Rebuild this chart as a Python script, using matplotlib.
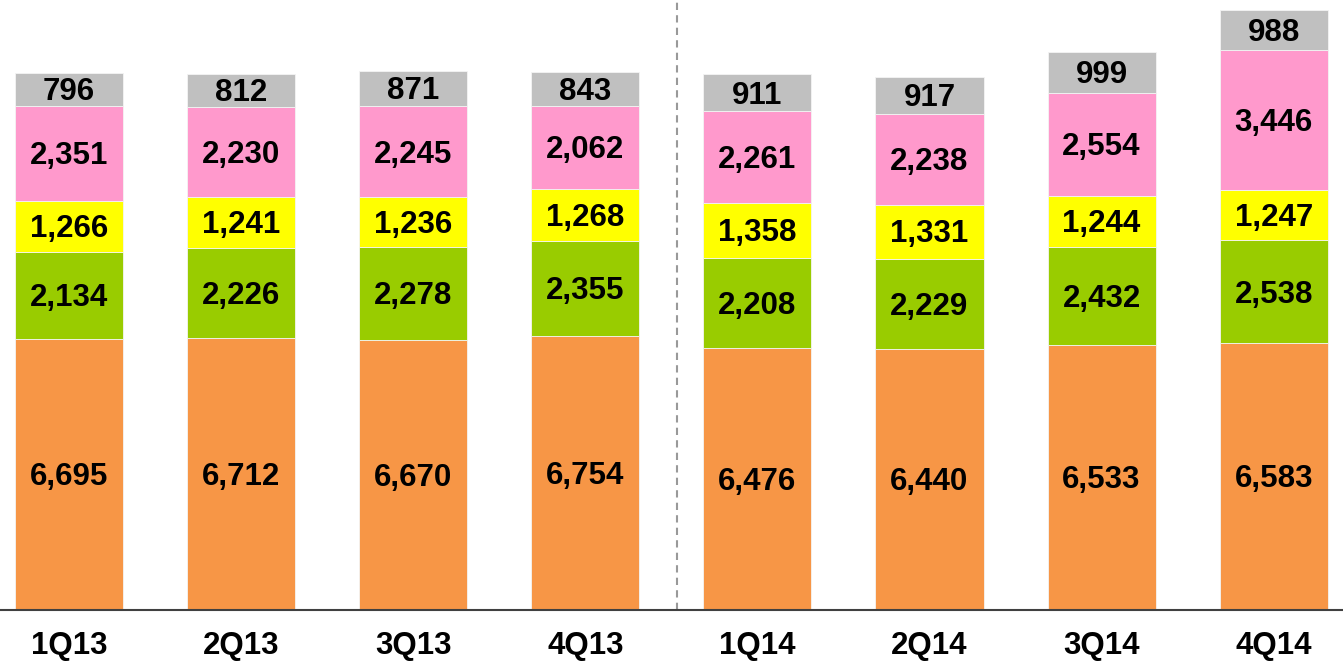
import matplotlib.pyplot as plt
import matplotlib.transforms as mtransforms
import numpy as np

# datos del grafico (trimestres y cinco series apiladas)
trimestres = ["1Q13", "2Q13", "3Q13", "4Q13", "1Q14", "2Q14", "3Q14", "4Q14"]
naranja = [6695, 6712, 6670, 6754, 6476, 6440, 6533, 6583]
verde = [2134, 2226, 2278, 2355, 2208, 2229, 2432, 2538]
amarillo = [1266, 1241, 1236, 1268, 1358, 1331, 1244, 1247]
rosa = [2351, 2230, 2245, 2062, 2261, 2238, 2554, 3446]
gris = [796, 812, 871, 843, 911, 917, 999, 988]

series = [naranja, verde, amarillo, rosa, gris]
colores = ["#F79646", "#99CC00", "#FFFF00", "#FF99CC", "#C0C0C0"]

plt.rcParams['font.family'] = ['Liberation Sans', 'DejaVu Sans']

fig = plt.figure(figsize=(13.43, 6.62), dpi=100)
ax = fig.add_axes([0, 1 - 610 / 662, 1, 610 / 662])

# pequeno corrimiento hacia abajo de las etiquetas
bajar = mtransforms.offset_copy(ax.transData, fig=fig, x=0, y=-2, units="points")

x = np.arange(len(trimestres))
base = np.zeros(len(trimestres))
for vals, col in zip(series, colores):
    vals = np.array(vals)
    ax.bar(x, vals, width=0.628, bottom=base, color=col, edgecolor="#f4f4f4", linewidth=0.6)
    for xi, b, v in zip(x, base, vals):
        ax.text(xi, b + v / 2, f"{v:,}", ha="center", va="center", transform=bajar,
                fontsize=22.5, fontweight="bold", color="black")
    base = base + vals

# linea punteada que separa 2013 de 2014
ax.axvline(3.533, color="#999999", linestyle=(0, (3.5, 2.5)), linewidth=1.5)

ax.set_xlim(-0.401, 7.403)
ax.set_ylim(0, 15050)
ax.set_xticks(x)
ax.set_xticklabels(trimestres, fontsize=22.5, fontweight="bold")
ax.tick_params(axis="x", length=0, pad=15)
ax.set_yticks([])
for s in ["top", "left", "right"]:
    ax.spines[s].set_visible(False)
ax.spines["bottom"].set_color("#404040")
ax.spines["bottom"].set_linewidth(1.5)

fig.savefig("out.png", dpi=100)
